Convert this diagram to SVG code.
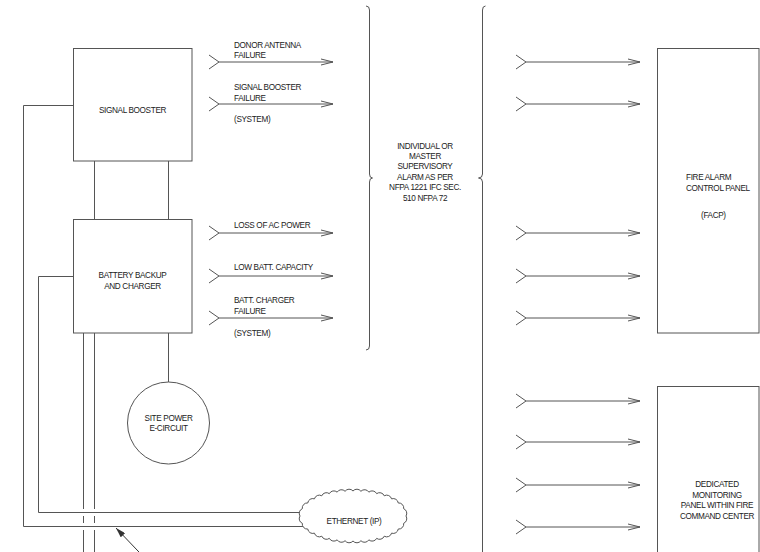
<svg xmlns="http://www.w3.org/2000/svg" xmlns:xlink="http://www.w3.org/1999/xlink" width="760" height="552" viewBox="0 0 760 552">
<style>
  .ln{fill:none;stroke:#555;stroke-width:1}
  .box{fill:#fff;stroke:#555;stroke-width:1}
  .t{font-family:"Liberation Sans",Arial,sans-serif;font-size:8.2px;letter-spacing:-0.35px;fill:#222}
  .c{text-anchor:middle}
</style>
<defs>
  <g id="arr" class="ln">
    <path d="M0,-7 L10,0 L0,7"/>
    <path d="M10,0 H124"/>
    <path d="M112,-3 L124,0 L112,3"/>
  </g>
  <marker id="ah" viewBox="0 0 10 6" refX="10" refY="3" markerWidth="10" markerHeight="6" markerUnits="userSpaceOnUse" orient="auto">
    <path d="M0,0 L10,3 L0,6 Z" fill="#333"/>
  </marker>
</defs>
<rect width="760" height="552" fill="#fff"/>

<g id="connectors">
  <!-- outer loop -->
  <path class="ln" d="M73,105.5 H23.5 V526.5 H310"/>
  <!-- inner loop -->
  <path class="ln" d="M73,276.5 H38.5 V512.5 H310"/>
  <!-- between boxes -->
  <path class="ln" d="M94.5,161 V219 M168.5,161 V219"/>
  <!-- below battery -->
  <path class="ln" d="M83.5,333 V509 M83.5,516 V523 M83.5,530 V552 M94.5,333 V509 M94.5,516 V523 M94.5,530 V552"/>
  <path class="ln" d="M168.5,333 V382"/>
  <!-- pointer arrow -->
  <line x1="160" y1="574" x2="116" y2="528" stroke="#333" stroke-width="1" marker-end="url(#ah)"/>
  <!-- left arrows -->
  <use href="#arr" xlink:href="#arr" x="209" y="62"/>
  <use href="#arr" xlink:href="#arr" x="209" y="104"/>
  <use href="#arr" xlink:href="#arr" x="209" y="233"/>
  <use href="#arr" xlink:href="#arr" x="209" y="276"/>
  <use href="#arr" xlink:href="#arr" x="209" y="318"/>
  <!-- right arrows -->
  <use href="#arr" xlink:href="#arr" x="516" y="62"/>
  <use href="#arr" xlink:href="#arr" x="516" y="104"/>
  <use href="#arr" xlink:href="#arr" x="516" y="233"/>
  <use href="#arr" xlink:href="#arr" x="516" y="276"/>
  <use href="#arr" xlink:href="#arr" x="516" y="318"/>
  <use href="#arr" xlink:href="#arr" x="516" y="401"/>
  <use href="#arr" xlink:href="#arr" x="516" y="442"/>
  <use href="#arr" xlink:href="#arr" x="516" y="485"/>
  <use href="#arr" xlink:href="#arr" x="516" y="527"/>
  <!-- braces -->
  <path class="ln" d="M366,6 Q369.5,6 369.5,10 V174 Q369.5,178 372.5,178 Q369.5,178 369.5,182 V346 Q369.5,350 366,350"/>
  <path class="ln" d="M485.5,6 Q482.5,6 482.5,10 V174 Q482.5,178 478.5,178 Q482.5,178 482.5,182 V556"/>
</g>

<g id="signal-booster">
  <rect class="box" x="73.5" y="48.5" width="118.5" height="112.5"/>
  <text class="t c" x="132.5" y="112.5">SIGNAL BOOSTER</text>
</g>

<g id="battery-backup">
  <rect class="box" x="73.5" y="219.5" width="118.5" height="113.5"/>
  <text class="t c" x="132.5" y="278">BATTERY BACKUP</text>
  <text class="t c" x="132.5" y="288.5">AND CHARGER</text>
</g>

<g id="site-power">
  <circle class="box" cx="168.5" cy="423" r="41"/>
  <text class="t c" x="168.5" y="420.5">SITE POWER</text>
  <text class="t c" x="168.5" y="431">E-CIRCUIT</text>
</g>

<g id="ethernet">
  <path class="box" d="M406,516 A5,5 0 0 1 403.68,523.31 A5,5 0 0 1 398.24,529.03 A5,5 0 0 1 391.57,533.15 A5,5 0 0 1 384.23,536.2 A5,5 0 0 1 376.65,538.37 A5,5 0 0 1 368.85,539.86 A5,5 0 0 1 360.92,540.72 A5,5 0 0 1 353,541 A5,5 0 0 1 345.08,540.72 A5,5 0 0 1 337.15,539.86 A5,5 0 0 1 329.35,538.37 A5,5 0 0 1 321.77,536.2 A5,5 0 0 1 314.43,533.15 A5,5 0 0 1 307.76,529.03 A5,5 0 0 1 302.32,523.31 A5,5 0 0 1 300,516 A5,5 0 0 1 302.32,508.69 A5,5 0 0 1 307.76,502.97 A5,5 0 0 1 314.43,498.85 A5,5 0 0 1 321.77,495.8 A5,5 0 0 1 329.35,493.63 A5,5 0 0 1 337.15,492.14 A5,5 0 0 1 345.08,491.28 A5,5 0 0 1 353,491 A5,5 0 0 1 360.92,491.28 A5,5 0 0 1 368.85,492.14 A5,5 0 0 1 376.65,493.63 A5,5 0 0 1 384.23,495.8 A5,5 0 0 1 391.57,498.85 A5,5 0 0 1 398.24,502.97 A5,5 0 0 1 403.68,508.69 A5,5 0 0 1 406,516 Z"/>
  <text class="t c" x="354" y="524">ETHERNET (IP)</text>
</g>

<g id="facp">
  <rect class="box" x="657.5" y="48.5" width="101.5" height="284.5"/>
  <text class="t" x="686" y="180">FIRE ALARM</text>
  <text class="t" x="686" y="190.5">CONTROL PANEL</text>
  <text class="t" x="701" y="217.5">(FACP)</text>
</g>

<g id="monitoring-panel">
  <rect class="box" x="657.5" y="386.5" width="101.5" height="180"/>
  <text class="t c" x="717" y="487">DEDICATED</text>
  <text class="t c" x="717" y="497.5">MONITORING</text>
  <text class="t c" x="717" y="508">PANEL WITHIN FIRE</text>
  <text class="t c" x="717" y="518.5">COMMAND CENTER</text>
</g>

<g id="alarm-note">
  <text class="t c" x="425" y="148.5">INDIVIDUAL OR</text>
  <text class="t c" x="425" y="158.5">MASTER</text>
  <text class="t c" x="425" y="169">SUPERVISORY</text>
  <text class="t c" x="425" y="179.5">ALARM AS PER</text>
  <text class="t c" x="425" y="190">NFPA 1221 IFC SEC.</text>
  <text class="t c" x="425" y="200.5">510 NFPA 72</text>
</g>

<g id="signal-labels">
  <text class="t" x="234" y="47.5">DONOR ANTENNA</text>
  <text class="t" x="234" y="58">FAILURE</text>
  <text class="t" x="234" y="90">SIGNAL BOOSTER</text>
  <text class="t" x="234" y="100.5">FAILURE</text>
  <text class="t" x="234" y="122">(SYSTEM)</text>
  <text class="t" x="234" y="227.5">LOSS OF AC POWER</text>
  <text class="t" x="234" y="270">LOW BATT. CAPACITY</text>
  <text class="t" x="234" y="303">BATT. CHARGER</text>
  <text class="t" x="234" y="313.5">FAILURE</text>
  <text class="t" x="234" y="336">(SYSTEM)</text>
</g>
</svg>
